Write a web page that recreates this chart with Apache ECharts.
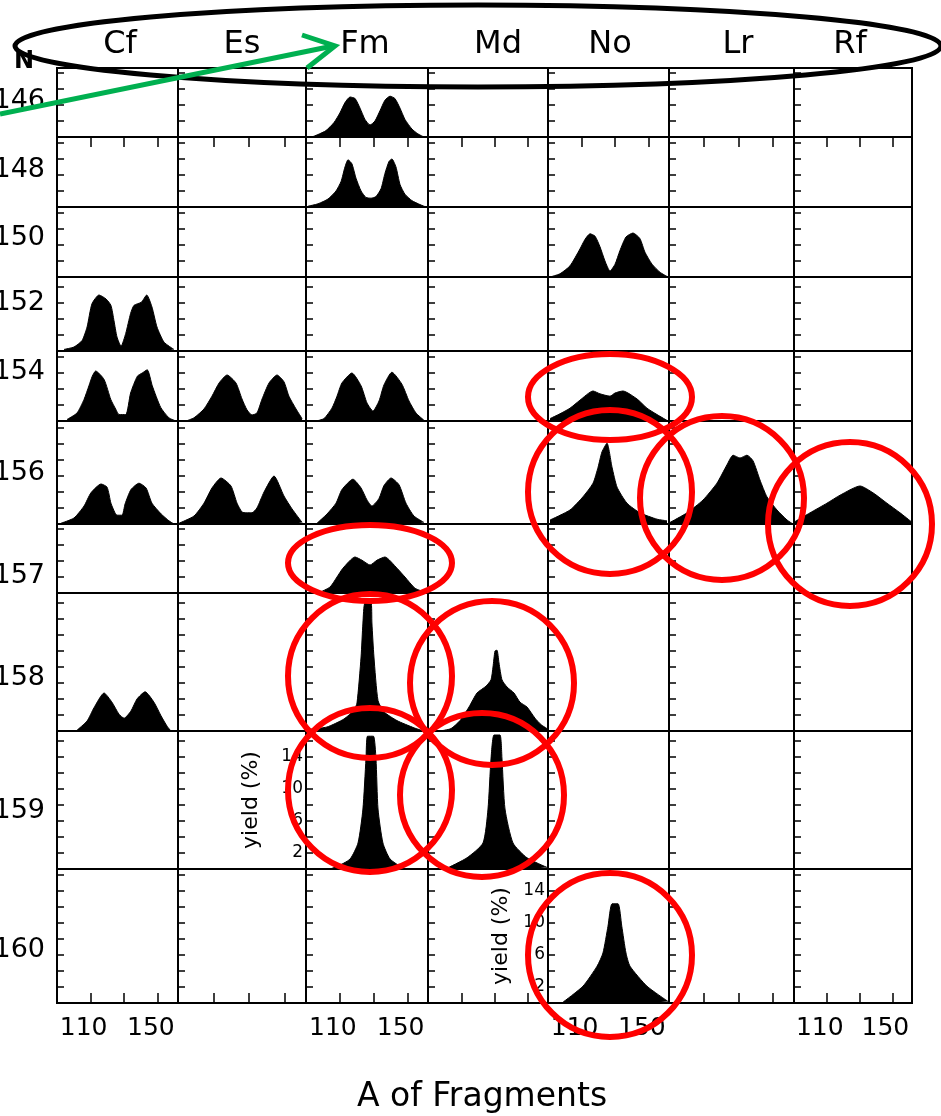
<!DOCTYPE html>
<html>
<head>
<meta charset="utf-8">
<title>Fission fragment mass distributions</title>
<style>
  html, body { margin: 0; padding: 0; background: #fff; }
  #chart { width: 941px; height: 1116px; }
</style>
<script src="https://cdn.jsdelivr.net/npm/echarts@6/dist/echarts.min.js"></script>
</head>
<body>
<div id="chart"></div>
<script>
// columns = element, rows = neutron number N
const elements = ["Cf", "Es", "Fm", "Md", "No", "Lr", "Rf"];
const neutrons = [146, 148, 150, 152, 154, 156, 157, 158, 159, 160];
const massTicks = [110, 130, 150];
const massLabels = [110, 150];
const yieldLabels = [2, 6, 10, 14];

// [A of fragment, yield %]
const fm146 = [[93.5,0],[97,0.3],[101.8,0.8],[106.5,1.8],[110,3.0],[113,4.3],[116,5.0],[119,4.8],[121.9,3.6],[124.8,2.2],[127.8,1.5],[130.7,2.0],[133.7,3.3],[136.6,4.6],[139.6,5.1],[142.5,4.8],[145.5,3.6],[148.4,2.2],[152.5,1.0],[156,0.4],[159.6,0]];
const fm148 = [[91.2,0.1],[97.1,0.4],[103,1.0],[107.7,2.0],[110.7,3.2],[113,5.0],[114.8,5.9],[117.1,5.4],[119.5,3.6],[122.5,2.0],[125.4,1.2],[128.4,1.1],[131.3,1.3],[134.3,2.3],[136.6,4.2],[139,5.7],[140.7,6.0],[143.1,5.0],[145.5,2.8],[148.4,1.6],[152.5,0.8],[157.3,0.3],[160.8,0]];
const no150 = [[91.2,0],[97.1,0.4],[103.1,1.4],[109,3.5],[112,4.7],[115,5.4],[118,5.1],[120.9,3.8],[123.9,2.0],[126.9,0.75],[129.9,1.6],[132.8,3.3],[136.4,5.0],[140.6,5.5],[144.7,4.8],[147.7,3.1],[151.9,1.6],[156.6,0.6],[161.4,0]];
const cf152 = [[94.2,0.2],[100.1,0.5],[104.9,1.3],[107.9,3.0],[110.8,5.9],[115,7.0],[119.2,6.5],[122.1,5.7],[123.9,3.8],[125.7,1.75],[128.1,0.6],[130.9,2.2],[133.8,4.7],[135.8,5.7],[140.2,6.1],[143.4,7.0],[146.5,5.5],[149.5,3.0],[153.7,1.1],[159.6,0.2]];
const cf154 = [[96,0.2],[101.9,1.0],[106.1,2.7],[109,4.4],[111,5.6],[113,6.25],[118,5.2],[122,2.7],[124.9,1.5],[126.9,0.8],[130.9,0.8],[133.8,3.5],[137.8,5.6],[140.7,6.0],[143.7,6.4],[146.7,4.4],[151.7,1.7],[156.6,0.4],[160.8,0]];
const es154 = [[94.5,0],[99,0.4],[104.6,1.5],[109.1,3.1],[113.1,4.75],[117.6,5.75],[122.6,4.75],[126,2.75],[128.8,1.4],[131.6,0.75],[134.4,1.0],[137.3,2.75],[141.2,4.75],[145.7,5.75],[149.6,4.9],[152.4,3.1],[156.4,1.5],[159.8,0.3]];
const fm154 = [[96,0],[100.6,0.3],[105.3,1.6],[108.3,3.1],[111.2,4.75],[117.1,6.0],[122.5,4.4],[126,2.25],[129.5,1.25],[133.1,2.5],[136,4.5],[140.7,6.1],[146.6,4.6],[150.8,2.5],[154.9,1.0],[159.6,0.1]];
const no154 = [[91.2,0.3],[97.1,0.9],[103.1,1.6],[109,2.6],[116.8,3.75],[120.9,3.4],[126.9,3.1],[129.9,3.5],[134.6,3.75],[143,2.75],[148.9,1.6],[154.9,0.8],[161.4,0]];
const cf156 = [[92.4,0.1],[100.1,0.75],[106.1,2.25],[110.2,3.9],[116.2,5.0],[119.8,4.6],[122.1,2.6],[124.5,1.4],[125.7,1.1],[128.7,1.1],[130.5,2.5],[134,4.3],[138.8,5.1],[143,4.5],[146.5,2.6],[152,1.25],[156.6,0.4],[159.6,0]];
const es156 = [[90.6,0.1],[99,1.0],[104.6,2.6],[109.1,4.5],[114.2,5.75],[119.8,4.75],[123.2,2.6],[126,1.5],[128.3,1.4],[131.6,1.4],[134.4,2.0],[138.4,4.0],[144,6.0],[149.6,3.5],[154.1,1.9],[159.8,0.2]];
const fm156 = [[96.5,0.1],[102.4,1.25],[107.7,2.6],[111.2,4.3],[117.7,5.6],[122.5,4.5],[126,3.0],[128.9,2.25],[133.1,3.2],[136,4.8],[140.2,5.75],[144.9,4.9],[149,2.6],[153.7,1.0],[159.6,0.2]];
const no156 = [[91.2,0.5],[103.1,1.75],[110.8,3.4],[116.8,5.1],[119.8,7.1],[122.1,9.0],[125.1,10.1],[128.1,7.1],[131.1,4.6],[137,2.6],[144.7,1.4],[154.9,0.6],[160.8,0.4]];
const lr156 = [[90.6,0.2],[100.4,1.4],[109.6,3.0],[117.6,5.1],[123.4,7.4],[126.9,8.6],[130.9,8.25],[134.9,8.6],[138.4,7.9],[142.4,5.5],[146.4,3.4],[152.2,1.75],[158,0.5],[161.4,0]];
const rf156 = [[90.6,0.3],[99.8,1.4],[110.1,2.6],[118.1,3.6],[130.3,4.75],[138.2,3.9],[146.7,2.6],[154.7,1.4],[161.5,0.3]];
const fm157 = [[98.3,0.1],[104.2,0.75],[108.3,2.0],[111.8,3.1],[118.9,4.5],[123,4.1],[127.8,3.5],[131.9,4.1],[136.6,4.5],[143.7,3.1],[148.4,2.0],[154.3,0.6],[160.2,0.1]];
const cf158 = [[101.9,0.1],[107.9,1.25],[112,2.9],[118,4.75],[122.7,3.6],[126.9,2.1],[129.9,1.6],[134,2.5],[137.6,4.0],[142.4,4.9],[147.7,3.6],[151.9,1.9],[155.5,0.6],[157.8,0]];
const fm158 = [[91.8,0.2],[102.4,0.5],[112.4,1.5],[118.3,2.6],[120.1,3.5],[122.5,9.25],[123.6,13.5],[124.8,16.0],[128.4,16.0],[128.9,13.5],[130.1,9.25],[132.5,3.8],[136,2.4],[143.7,1.3],[153.7,0.4],[157.9,0.1]];
const md158 = [[97.2,0],[103.8,0.3],[109.2,1.3],[114.6,3.0],[119.4,4.75],[124.8,5.6],[127.8,6.4],[129,8.0],[130.2,10.0],[131.4,10.1],[132.6,8.5],[134.4,6.4],[137.4,5.5],[141.6,4.75],[145.2,3.6],[149.4,3.0],[154.2,1.6],[157.8,0.8],[161.4,0.3]];
const fm159 = [[104,0],[108.3,0.3],[116,1.25],[120.7,3.25],[123.6,7.5],[125.4,13.75],[126.3,16.6],[129.8,16.6],[131.3,13.75],[132.5,7.5],[135.4,3.25],[139.6,1.25],[147.2,0.1]];
const md159 = [[101.4,0.1],[113.4,1.4],[123,3.25],[126,7.5],[127.8,13.75],[129.6,16.75],[133.2,16.75],[134.4,13.75],[136.2,7.5],[141,3.25],[149.4,1.4],[161.4,0.2]];
const no160 = [[98.9,0.1],[110.8,2.1],[119.2,4.6],[122.7,6.25],[125.7,9.6],[128.1,12.4],[131.7,12.4],[133.9,9.6],[136.4,6.25],[138.8,4.6],[148.9,2.1],[161.4,0.2]];

const cells = [
  ["Fm", 146, fm146], ["Fm", 148, fm148], ["No", 150, no150], ["Cf", 152, cf152],
  ["Cf", 154, cf154], ["Es", 154, es154], ["Fm", 154, fm154], ["No", 154, no154],
  ["Cf", 156, cf156], ["Es", 156, es156], ["Fm", 156, fm156], ["No", 156, no156],
  ["Lr", 156, lr156], ["Rf", 156, rf156], ["Fm", 157, fm157], ["Cf", 158, cf158],
  ["Fm", 158, fm158], ["Md", 158, md158], ["Fm", 159, fm159], ["Md", 159, md159],
  ["No", 160, no160]
];

// panel layout in pixels
const colEdges = [57, 178, 306, 428, 548, 669, 794, 912];
const rowEdges = [68, 137, 207, 277, 351, 421, 524, 593, 731, 869, 1003];
const pxPerYield = 8;
const colLabelX = [120, 242, 365, 498, 610, 738, 850];
const rowLabelY = [101, 170, 238, 303, 372, 473, 576, 678, 811, 950];

const font = "DejaVu Sans";
const lookup = {};
cells.forEach(([el, n, d]) => { lookup[el + n] = d; });

const grids = [], xAxes = [], yAxes = [], series = [];
neutrons.forEach((n, r) => {
  const top = rowEdges[r];
  const height = rowEdges[r + 1] - top;
  const isTop = r === 0;
  const isBottom = r === neutrons.length - 1;
  elements.forEach((el, c) => {
    const idx = grids.length;
    const left = colEdges[c];
    grids.push({
      left, top, width: colEdges[c + 1] - left, height,
      show: true, borderColor: "#000", borderWidth: 2,
      outerBoundsMode: "none"
    });
    xAxes.push({
      type: "value", gridIndex: idx, min: 90, max: 162,
      position: isTop ? "top" : "bottom",
      axisLine: { show: false }, splitLine: { show: false },
      axisTick: {
        show: isTop || isBottom, inside: true, length: 10,
        customValues: massTicks, lineStyle: { color: "#000", width: 1.5 }
      },
      axisLabel: {
        show: isBottom && c % 2 === 0, customValues: massLabels,
        color: "#000", fontSize: 25, fontFamily: font, margin: 13,
        padding: [0, 14, 0, 0]
      }
    });
    const labelled = (el === "Fm" && n === 159) || (el === "No" && n === 160);
    yAxes.push({
      type: "value", gridIndex: idx, min: 0, max: height / pxPerYield, interval: 2,
      axisLine: { show: false }, splitLine: { show: false },
      axisTick: { show: true, inside: true, length: 7, lineStyle: { color: "#000", width: 1.5 } },
      axisLabel: {
        show: labelled, margin: 3, fontSize: 17, color: "#000", fontFamily: font,
        formatter: v => (yieldLabels.includes(v) ? String(v) : "")
      },
      name: labelled ? "yield (%)" : "",
      nameLocation: "middle", nameRotate: 90,
      nameGap: el === "Fm" ? 44 : 36,
      nameTextStyle: { fontSize: 22, color: "#000", fontFamily: font }
    });
    const data = lookup[el + n];
    if (data) {
      series.push({
        type: "line", xAxisIndex: idx, yAxisIndex: idx, data,
        symbol: "none", smooth: 0.2, silent: true,
        lineStyle: { color: "#000", width: 1 },
        areaStyle: { color: "#000", opacity: 1 }
      });
    }
  });
});

const graphic = [];
elements.forEach((el, i) => {
  graphic.push({
    type: "text", x: colLabelX[i], y: 45, z: 50,
    style: { text: el, fontSize: 32, fontFamily: font, fill: "#000", align: "center", verticalAlign: "middle" }
  });
});
neutrons.forEach((n, i) => {
  graphic.push({
    type: "text", x: 45, y: rowLabelY[i], z: 50,
    style: { text: String(n), fontSize: 27, fontFamily: font, fill: "#000", align: "right", verticalAlign: "middle" }
  });
});
graphic.push(
  { type: "text", x: 24, y: 62, z: 50,
    style: { text: "N", fontSize: 24, fontWeight: "bold", fontFamily: font, fill: "#000", align: "center", verticalAlign: "middle" } },
  { type: "text", x: 482, y: 1097, z: 50,
    style: { text: "A of Fragments", fontSize: 33, fontFamily: font, fill: "#000", align: "center", verticalAlign: "middle" } },
  // annotations
  { type: "ellipse", z: 100, shape: { cx: 478, cy: 46, rx: 463, ry: 41 },
    style: { fill: "transparent", stroke: "#000", lineWidth: 5 } },
  { type: "line", z: 101, shape: { x1: 0, y1: 114, x2: 333, y2: 46 },
    style: { stroke: "#00b050", lineWidth: 5 } },
  { type: "polyline", z: 101, shape: { points: [[302, 35], [335, 46], [307, 68]] },
    style: { stroke: "#00b050", lineWidth: 5, fill: "transparent" } }
);
const redRings = [
  [610, 397, 82, 43], [610, 492, 82, 82], [722, 498, 82, 82], [850, 524, 82, 82],
  [370, 563, 82, 38], [370, 676, 82, 82], [492, 683, 82, 82], [370, 790, 82, 82],
  [482, 795, 82, 82], [610, 955, 82, 82]
];
redRings.forEach(([cx, cy, rx, ry]) => {
  graphic.push({
    type: "ellipse", z: 110, shape: { cx, cy, rx, ry },
    style: { fill: "transparent", stroke: "#ff0000", lineWidth: 6 }
  });
});

const chart = echarts.init(document.getElementById("chart"));
chart.setOption({
  animation: false,
  backgroundColor: "#fff",
  grid: grids,
  xAxis: xAxes,
  yAxis: yAxes,
  series,
  graphic
});
</script>
</body>
</html>
